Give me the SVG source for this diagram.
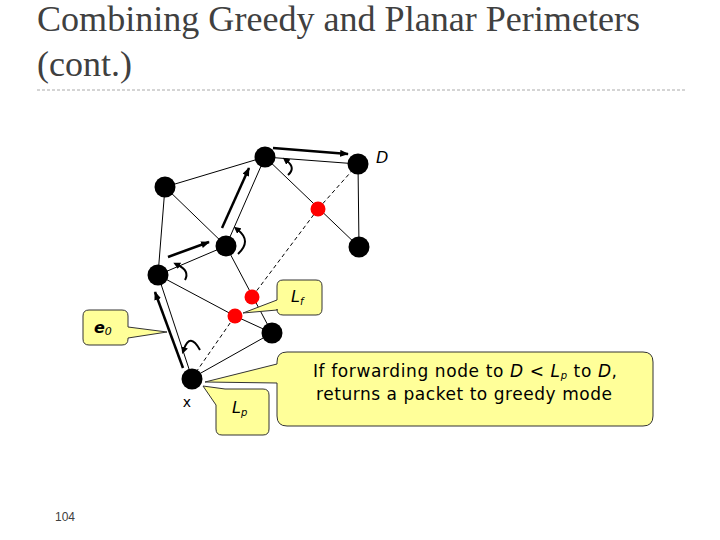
<svg xmlns="http://www.w3.org/2000/svg" width="720" height="540" viewBox="0 0 720 540">
<style>
.title{font-family:"Liberation Serif",serif;font-size:36px;fill:#404040}
.edge{stroke:#000;stroke-width:1;fill:none}
.dash{stroke:#000;stroke-width:1;fill:none;stroke-dasharray:4,3}
.arrow{stroke:#000;stroke-width:2.5;fill:none;marker-end:url(#ah)}
.turn{stroke:#000;stroke-width:2;fill:none;marker-start:url(#th)}
.bn{fill:#000}
.rn{fill:#ff0000}
.call{fill:#ffff99;stroke:#333;stroke-width:1}
.lbl{font-family:"DejaVu Sans",Verdana,sans-serif;fill:#000}
</style>
<defs>
<marker id="ah" viewBox="0 0 10 8" refX="9" refY="4" markerWidth="9" markerHeight="7" markerUnits="userSpaceOnUse" orient="auto">
<path d="M0,0 L10,4 L0,8 Z" fill="#000"/>
</marker>
<marker id="th" viewBox="0 0 8 8" refX="2" refY="4" markerWidth="7" markerHeight="7" markerUnits="userSpaceOnUse" orient="auto-start-reverse">
<path d="M0,0 L8,4 L0,8 Z" fill="#000"/>
</marker>
</defs>
<rect width="720" height="540" fill="#fff"/>
<text class="title" x="37" y="31" textLength="603" lengthAdjust="spacingAndGlyphs">Combining Greedy and Planar Perimeters</text>
<text class="title" x="37" y="76" textLength="95" lengthAdjust="spacingAndGlyphs">(cont.)</text>
<line x1="37" y1="90" x2="685" y2="90" stroke="#aaa" stroke-width="1" stroke-dasharray="3,2"/>
<text x="65" y="521" text-anchor="middle" font-family="Liberation Sans,sans-serif" font-size="12" fill="#404040">104</text>

<g id="connectors">
<line class="edge" x1="265" y1="157" x2="358" y2="164"/>
<line class="edge" x1="265" y1="157" x2="165" y2="187"/>
<line class="edge" x1="165" y1="187" x2="226" y2="246"/>
<line class="edge" x1="165" y1="187" x2="158" y2="275"/>
<line class="edge" x1="265" y1="157" x2="226" y2="246"/>
<line class="edge" x1="265" y1="157" x2="359" y2="247"/>
<line class="edge" x1="358" y1="164" x2="359" y2="247"/>
<line class="dash" x1="358" y1="164" x2="318" y2="209"/>
<line class="dash" x1="318" y1="209" x2="252" y2="297"/>
<line class="edge" x1="158" y1="275" x2="226" y2="246"/>
<line class="edge" x1="226" y1="246" x2="272" y2="333"/>
<line class="edge" x1="158" y1="275" x2="235" y2="316"/>
<line class="edge" x1="235" y1="316" x2="272" y2="333"/>
<line class="edge" x1="158" y1="275" x2="192" y2="378"/>
<line class="dash" x1="192" y1="378" x2="235" y2="316"/>
<line class="edge" x1="192" y1="378" x2="272" y2="333"/>
<line class="arrow" x1="273" y1="148" x2="348" y2="154"/>
<line class="arrow" x1="222" y1="228" x2="249" y2="168"/>
<line class="arrow" x1="168" y1="257" x2="209" y2="242"/>
<line class="arrow" x1="183" y1="368" x2="155" y2="292"/>
<path class="turn" d="M287,161 Q296,168 288,175"/>
<path class="turn" d="M238,230 Q252,241 238,254"/>
<path class="turn" d="M178,265 Q190,271 185,280"/>
<path class="turn" d="M184,349 Q190,332 200,350"/>
</g>

<g id="node-A"><circle class="bn" cx="265" cy="157" r="10.5"/></g>
<g id="node-D"><circle class="bn" cx="358" cy="164" r="10.5"/><text class="lbl" x="376" y="163" font-style="italic" font-size="16">D</text></g>
<g id="node-B"><circle class="bn" cx="165" cy="187" r="10.5"/></g>
<g id="node-C"><circle class="bn" cx="226" cy="246" r="10.5"/></g>
<g id="node-E"><circle class="bn" cx="359" cy="247" r="10.5"/></g>
<g id="node-F"><circle class="bn" cx="158" cy="275" r="10.5"/></g>
<g id="node-G"><circle class="bn" cx="272" cy="333" r="10.5"/></g>
<g id="node-X"><circle class="bn" cx="192" cy="379" r="10.5"/><text class="lbl" x="187" y="407" text-anchor="middle" font-size="14">x</text></g>
<g id="node-R1"><circle class="rn" cx="318" cy="209" r="7.5"/></g>
<g id="node-R2"><circle class="rn" cx="252" cy="297" r="7.5"/></g>
<g id="node-R3"><circle class="rn" cx="235" cy="316" r="7.5"/></g>

<g id="callout-Lf">
<path class="call" d="M283,280 H316 Q322,280 322,286 V309 Q322,315 316,315 H283 Q277,315 277,309 V310 L243,313 L277,300 V286 Q277,280 283,280 Z"/>
<text class="lbl" x="291" y="302" font-style="italic" font-size="16">L<tspan font-size="10" dy="3">f</tspan></text>
</g>
<g id="callout-e0">
<path class="call" d="M89,310 H122 Q128,310 128,316 V327 L167,332 L128,338 V339 Q128,345 122,345 H89 Q83,345 83,339 V316 Q83,310 89,310 Z"/>
<text class="lbl" x="94" y="333" font-style="italic" font-weight="bold" font-size="16">e<tspan font-size="11" font-weight="normal" dy="2">0</tspan></text>
</g>
<g id="callout-Lp">
<path class="call" d="M225,389 H263 Q269,389 269,395 V429 Q269,435 263,435 H222 Q216,435 216,429 V405 L203,386 Z"/>
<text class="lbl" x="232" y="413" font-style="italic" font-size="16">L<tspan font-size="10" dy="3">p</tspan></text>
</g>
<g id="callout-main">
<path class="call" d="M287,352 H643 Q653,352 653,362 V416 Q653,426 643,426 H287 Q277,426 277,416 V383 L205,382 L277,364 V362 Q277,352 287,352 Z"/>
<text class="lbl" x="313" y="377" font-size="17" textLength="304" lengthAdjust="spacing">If forwarding node to <tspan font-style="italic">D</tspan> &lt; <tspan font-style="italic">L<tspan font-size="10" dy="2">p</tspan></tspan><tspan dy="-2"> to </tspan><tspan font-style="italic">D</tspan>,</text>
<text class="lbl" x="316" y="400" font-size="17" textLength="296" lengthAdjust="spacing">returns a packet to greedy mode</text>
</g>
</svg>
